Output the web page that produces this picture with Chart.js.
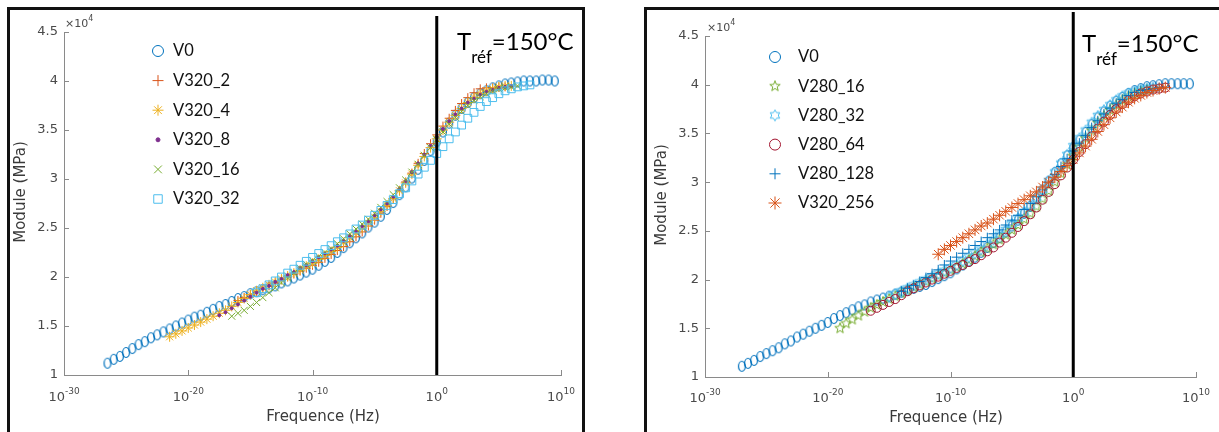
<!DOCTYPE html>
<html>
<head>
<meta charset="utf-8">
<script src="https://cdn.jsdelivr.net/npm/chart.js@4.4.1/dist/chart.umd.min.js"></script>
<style>
  html, body { margin: 0; padding: 0; background: #fff; }
  body { width: 1219px; height: 432px; position: relative; overflow: hidden; }
  .frame { position: absolute; border: 3px solid #111; box-sizing: border-box; }
  canvas { position: absolute; top: 0; }
</style>
</head>
<body>
<div class="frame" style="left:7px;top:7px;width:578px;height:460px"></div>
<div class="frame" style="left:644px;top:7px;width:600px;height:460px"></div>
<canvas id="leftChart" width="590" height="432" style="left:0"></canvas>
<canvas id="rightChart" width="599" height="432" style="left:620px"></canvas>
<script>
// log10 of frequency (Hz), shared grid for every series, rows start at -27,-22,-17,-12,-7,-2,3,8
const logFreq = [
  -27, -26.5, -26, -25.5, -25, -24.5, -24, -23.5, -23, -22.5,
  -22, -21.5, -21, -20.5, -20, -19.5, -19, -18.5, -18, -17.5,
  -17, -16.5, -16, -15.5, -15, -14.5, -14, -13.5, -13, -12.5,
  -12, -11.5, -11, -10.5, -10, -9.5, -9, -8.5, -8, -7.5,
  -7, -6.5, -6, -5.5, -5, -4.5, -4, -3.5, -3, -2.5,
  -2, -1.5, -1, -0.5, 0, 0.5, 1, 1.5, 2, 2.5,
  3, 3.5, 4, 4.5, 5, 5.5, 6, 6.5, 7, 7.5,
  8, 8.5, 9, 9.5
];
const xTickPowers = [-30, -20, -10, 0, 10];
const yTicks = [1, 1.5, 2, 2.5, 3, 3.5, 4, 4.5];

// left figure, module in x1e4 MPa
const leftLabels = ['V0', 'V320_2', 'V320_4', 'V320_8', 'V320_16', 'V320_32'];
const leftV0 = [
  null, 1.12, 1.16, 1.19, 1.23, 1.27, 1.31, 1.34, 1.38, 1.41,
  1.44, 1.47, 1.50, 1.53, 1.56, 1.59, 1.61, 1.64, 1.67, 1.70,
  1.72, 1.75, 1.78, 1.80, 1.83, 1.85, 1.87, 1.89, 1.91, 1.94,
  1.96, 1.99, 2.02, 2.05, 2.08, 2.12, 2.16, 2.20, 2.25, 2.30,
  2.35, 2.40, 2.45, 2.51, 2.56, 2.62, 2.69, 2.76, 2.84, 2.92,
  3.01, 3.10, 3.19, 3.29, 3.38, 3.48, 3.57, 3.65, 3.72, 3.78,
  3.83, 3.87, 3.90, 3.93, 3.95, 3.97, 3.98, 3.99, 4.00, 4.00,
  4.00, 4.01, 4.01, 4.00
];
const leftV320_2 = [
  null, null, null, null, null, null, null, null, null, null,
  null, null, null, null, null, null, null, null, null, null,
  null, null, 1.76, 1.79, 1.82, 1.85, 1.88, 1.91, 1.94, 1.97,
  2.00, 2.03, 2.06, 2.09, 2.12, 2.15, 2.19, 2.23, 2.27, 2.31,
  2.36, 2.41, 2.46, 2.52, 2.58, 2.65, 2.72, 2.80, 2.88, 2.97,
  3.06, 3.16, 3.26, 3.36, 3.45, 3.54, 3.62, 3.70, 3.77, 3.83,
  3.88, 3.92, 3.93, 3.93, 3.94, 3.94, null, null, null, null,
  null, null, null, null
];
const leftV320_4 = [
  null, null, null, null, null, null, null, null, null, null,
  null, 1.39, 1.42, 1.45, 1.48, 1.51, 1.54, 1.57, 1.60, 1.63,
  1.66, 1.70, 1.74, 1.78, 1.82, 1.86, 1.89, 1.92, 1.95, 1.98,
  2.01, 2.04, 2.07, 2.11, 2.14, 2.18, 2.22, 2.26, 2.30, 2.35,
  2.40, 2.45, 2.50, 2.55, 2.61, 2.67, 2.73, 2.80, 2.88, 2.96,
  3.05, 3.14, 3.23, 3.32, 3.41, 3.50, 3.58, 3.65, 3.72, 3.78,
  3.83, 3.87, 3.90, 3.92, 3.94, 3.95, 3.95, null, null, null,
  null, null, null, null
];
const leftV320_8 = [
  null, null, null, null, null, null, null, null, null, null,
  null, null, null, null, null, null, null, null, null, 1.61,
  1.64, 1.68, 1.72, 1.76, 1.80, 1.84, 1.88, 1.91, 1.95, 1.98,
  2.02, 2.05, 2.09, 2.12, 2.16, 2.20, 2.24, 2.28, 2.32, 2.37,
  2.42, 2.47, 2.52, 2.57, 2.63, 2.69, 2.75, 2.82, 2.90, 2.98,
  3.07, 3.16, 3.25, 3.34, 3.43, 3.51, 3.59, 3.66, 3.72, 3.78,
  3.82, 3.86, 3.89, 3.91, 3.93, 3.94, 3.95, null, null, null,
  null, null, null, null
];
const leftV320_16 = [
  null, null, null, null, null, null, null, null, null, null,
  null, null, null, null, null, null, null, null, null, null,
  null, 1.60, 1.63, 1.66, 1.70, 1.74, 1.79, 1.84, 1.89, 1.94,
  1.99, 2.04, 2.09, 2.13, 2.17, 2.21, 2.25, 2.29, 2.34, 2.39,
  2.44, 2.49, 2.54, 2.59, 2.65, 2.71, 2.77, 2.84, 2.91, 2.99,
  3.07, 3.15, 3.24, 3.32, 3.40, 3.48, 3.56, 3.63, 3.69, 3.75,
  3.80, 3.84, 3.87, 3.90, 3.92, 3.93, 3.94, 3.95, null, null,
  null, null, null, null
];
const leftV320_32 = [
  null, null, null, null, null, null, null, null, null, null,
  null, null, null, null, null, null, null, null, null, null,
  null, null, null, null, null, 1.84, 1.88, 1.92, 1.96, 2.00,
  2.04, 2.08, 2.12, 2.16, 2.20, 2.24, 2.28, 2.32, 2.36, 2.40,
  2.44, 2.49, 2.53, 2.58, 2.63, 2.68, 2.73, 2.79, 2.85, 2.91,
  2.98, 3.05, 3.12, 3.19, 3.26, 3.33, 3.41, 3.48, 3.55, 3.62,
  3.68, 3.74, 3.79, 3.83, 3.87, 3.90, 3.92, 3.94, 3.95, 3.96,
  null, null, null, null
];

// right figure
const rightLabels = ['V0', 'V280_16', 'V280_32', 'V280_64', 'V280_128', 'V320_256'];
const rightV0 = [
  1.11, 1.14, 1.17, 1.21, 1.24, 1.27, 1.30, 1.34, 1.37, 1.41,
  1.44, 1.47, 1.50, 1.53, 1.56, 1.60, 1.63, 1.66, 1.69, 1.72,
  1.74, 1.77, 1.79, 1.81, 1.83, 1.85, 1.87, 1.89, 1.91, 1.93,
  1.95, 1.98, 2.01, 2.04, 2.07, 2.11, 2.15, 2.19, 2.23, 2.28,
  2.33, 2.38, 2.43, 2.49, 2.55, 2.61, 2.68, 2.75, 2.83, 2.92,
  3.01, 3.10, 3.19, 3.27, 3.35, 3.43, 3.51, 3.59, 3.66, 3.72,
  3.78, 3.83, 3.87, 3.91, 3.94, 3.96, 3.98, 3.99, 4.00, 4.01,
  4.01, 4.01, 4.01, 4.01
];
const rightV280_16 = [
  null, null, null, null, null, null, null, null, null, null,
  null, null, null, null, null, null, 1.50, 1.55, 1.59, 1.63,
  1.67, 1.71, 1.74, 1.77, 1.80, 1.83, 1.86, 1.89, 1.92, 1.95,
  1.98, 2.01, 2.04, 2.07, 2.10, 2.13, 2.16, 2.20, 2.24, 2.28,
  2.32, 2.36, 2.41, 2.46, 2.51, 2.56, 2.62, 2.68, 2.75, 2.83,
  2.91, 3.00, 3.09, 3.18, 3.27, 3.36, 3.45, 3.53, 3.61, 3.68,
  3.74, 3.79, 3.84, 3.88, 3.91, 3.93, 3.95, null, null, null,
  null, null, null, null
];
const rightV280_32 = [
  null, null, null, null, null, null, null, null, null, null,
  null, null, null, null, null, null, null, null, null, null,
  null, null, null, null, 1.82, 1.85, 1.88, 1.91, 1.94, 1.97,
  2.00, 2.03, 2.06, 2.09, 2.12, 2.15, 2.19, 2.23, 2.27, 2.31,
  2.36, 2.41, 2.46, 2.51, 2.57, 2.63, 2.69, 2.76, 2.84, 2.92,
  3.01, 3.10, 3.19, 3.28, 3.37, 3.45, 3.53, 3.61, 3.68, 3.74,
  3.79, 3.84, 3.88, 3.91, 3.93, 3.95, 3.96, 3.97, null, null,
  null, null, null, null
];
const rightV280_64 = [
  null, null, null, null, null, null, null, null, null, null,
  null, null, null, null, null, null, null, null, null, null,
  null, 1.68, 1.71, 1.74, 1.77, 1.80, 1.84, 1.88, 1.91, 1.94,
  1.97, 2.00, 2.03, 2.06, 2.09, 2.12, 2.15, 2.18, 2.21, 2.25,
  2.29, 2.33, 2.38, 2.43, 2.48, 2.54, 2.60, 2.67, 2.74, 2.82,
  2.90, 2.98, 3.07, 3.15, 3.23, 3.31, 3.39, 3.47, 3.55, 3.62,
  3.69, 3.75, 3.80, 3.84, 3.88, 3.91, 3.93, 3.95, 3.96, 3.97,
  null, null, null, null
];
const rightV280_128 = [
  null, null, null, null, null, null, null, null, null, null,
  null, null, null, null, null, null, null, null, null, null,
  null, null, null, null, null, null, 1.88, 1.91, 1.94, 1.98,
  2.02, 2.06, 2.10, 2.15, 2.19, 2.23, 2.27, 2.31, 2.35, 2.39,
  2.43, 2.47, 2.51, 2.56, 2.61, 2.66, 2.72, 2.78, 2.85, 2.92,
  3.00, 3.08, 3.16, 3.24, 3.32, 3.40, 3.48, 3.56, 3.63, 3.70,
  3.76, 3.81, 3.85, 3.89, 3.92, 3.94, 3.95, 3.96, 3.97, null,
  null, null, null, null
];
const rightV320_256 = [
  null, null, null, null, null, null, null, null, null, null,
  null, null, null, null, null, null, null, null, null, null,
  null, null, null, null, null, null, null, null, null, null,
  null, null, 2.26, 2.31, 2.35, 2.39, 2.43, 2.47, 2.51, 2.55,
  2.58, 2.62, 2.66, 2.70, 2.74, 2.78, 2.82, 2.86, 2.90, 2.95,
  3.00, 3.05, 3.11, 3.17, 3.23, 3.30, 3.37, 3.44, 3.52, 3.59,
  3.66, 3.72, 3.77, 3.82, 3.86, 3.89, 3.92, 3.94, 3.96, 3.97,
  null, null, null, null
];

const axisGray = '#8a8a8a';
const tickGray = '#4a4a4a';
const titleGray = '#3a3a3a';

// outline star marker (pentagram / hexagram) drawn on a small canvas
function starMarker(color, points, outerR, innerR) {
  const size = Math.ceil(outerR * 2 + 3);
  const c = document.createElement('canvas');
  c.width = size; c.height = size;
  const g = c.getContext('2d');
  g.strokeStyle = color; g.lineWidth = 1;
  g.beginPath();
  for (let k = 0; k < points * 2; k++) {
    const r = k % 2 ? innerR : outerR;
    const a = -Math.PI / 2 + k * Math.PI / points;
    const px = size / 2 + r * Math.cos(a), py = size / 2 + r * Math.sin(a);
    if (k === 0) g.moveTo(px, py); else g.lineTo(px, py);
  }
  g.closePath(); g.stroke();
  return c;
}

// tall open ellipse, the squeezed 'o' markers of the V0 curve
function ovalMarker(color, rx, ry) {
  const c = document.createElement('canvas');
  c.width = Math.ceil(rx * 2 + 3); c.height = Math.ceil(ry * 2 + 3);
  const g = c.getContext('2d');
  g.strokeStyle = color; g.lineWidth = 1.2;
  g.beginPath();
  g.ellipse(c.width / 2, c.height / 2, rx, ry, 0, 0, Math.PI * 2);
  g.stroke();
  return c;
}

const leftStyles = [
  { color: '#0072BD', style: ovalMarker('#0072BD', 3.4, 5), legendStyle: 'circle', r: 4 },
  { color: '#D95319', style: 'cross', r: 4.5 },
  { color: '#EDB120', style: 'star', r: 5 },
  { color: '#7E2F8E', style: 'circle', r: 1.5, fill: true },
  { color: '#77AC30', style: 'crossRot', r: 5 },
  { color: '#4DBEEE', style: 'rect', r: 5.5 }
];
const rightStyles = [
  { color: '#0072BD', style: ovalMarker('#0072BD', 3.4, 5), legendStyle: 'circle', r: 4 },
  { color: '#77AC30', style: starMarker('#77AC30', 5, 5.5, 2.3) },
  { color: '#4DBEEE', style: starMarker('#4DBEEE', 6, 5.5, 3.2) },
  { color: '#A2142F', style: 'circle', r: 4.5 },
  { color: '#0072BD', style: 'cross', r: 5 },
  { color: '#D95319', style: 'star', r: 6 }
];

function toPoints(vals) {
  const out = [];
  vals.forEach((v, i) => {
    if (v !== null) out.push({ x: Math.pow(10, logFreq[i]), y: v });
  });
  return out;
}

function sup(ctx, base, exp, x, y, baseFont, expFont, expRise, align) {
  ctx.font = baseFont;
  const wb = ctx.measureText(base).width;
  ctx.font = expFont;
  const we = ctx.measureText(exp).width;
  let x0 = align === 'center' ? x - (wb + we) / 2 : x;
  ctx.textAlign = 'left';
  ctx.textBaseline = 'alphabetic';
  ctx.font = baseFont;
  ctx.fillText(base, x0, y);
  ctx.font = expFont;
  ctx.fillText(exp, x0 + wb, y - expRise);
}

const decor = {
  id: 'decor',
  afterDatasetsDraw(chart, args, g) {
    const { ctx, chartArea, scales } = chart;
    const xs = scales.x, ys = scales.y;
    ctx.save();

    // small inward tick marks
    ctx.strokeStyle = axisGray; ctx.lineWidth = 1;
    ctx.beginPath();
    xTickPowers.forEach(p => {
      const x = Math.round(xs.getPixelForValue(Math.pow(10, p))) + 0.5;
      ctx.moveTo(x, chartArea.bottom); ctx.lineTo(x, chartArea.bottom - 5);
    });
    yTicks.forEach(v => {
      const y = Math.round(ys.getPixelForValue(v)) + 0.5;
      ctx.moveTo(chartArea.left, y); ctx.lineTo(chartArea.left + 5, y);
    });
    ctx.stroke();

    // reference line at 1 Hz
    const xr = xs.getPixelForValue(1);
    ctx.strokeStyle = '#000'; ctx.lineWidth = 3;
    ctx.beginPath(); ctx.moveTo(xr, g.lineTop); ctx.lineTo(xr, chartArea.bottom); ctx.stroke();

    // x tick labels 10^n
    ctx.fillStyle = tickGray;
    xTickPowers.forEach(p => {
      const x = xs.getPixelForValue(Math.pow(10, p));
      sup(ctx, '10', String(p), x, g.tickBase, '13px "DejaVu Sans"', '9px "DejaVu Sans"', 7, 'center');
    });

    // x10^4 multiplier
    sup(ctx, '\u00d710', '4', g.x10[0], g.x10[1], '11px "DejaVu Sans"', '8px "DejaVu Sans"', 6, 'left');

    // axis titles
    ctx.fillStyle = titleGray;
    ctx.font = '15px "DejaVu Sans"';
    ctx.textAlign = 'center'; ctx.textBaseline = 'alphabetic';
    ctx.fillText('Frequence (Hz)', g.xTitle[0], g.xTitle[1]);
    ctx.save();
    ctx.translate(g.yTitle[0], g.yTitle[1]);
    ctx.rotate(-Math.PI / 2);
    ctx.textBaseline = 'middle';
    ctx.fillText('Module (MPa)', 0, 0);
    ctx.restore();

    // T_ref annotation
    ctx.fillStyle = '#000';
    ctx.textAlign = 'left'; ctx.textBaseline = 'alphabetic';
    ctx.font = '24px Lato';
    const wT = ctx.measureText('T').width;
    ctx.fillText('T', g.tref[0], g.tref[1]);
    ctx.font = '17px Lato';
    const wSub = ctx.measureText('réf').width;
    ctx.fillText('réf', g.tref[0] + wT, g.tref[1] + 13);
    ctx.font = '24px Lato';
    ctx.fillText('=150°C', g.tref[0] + wT + wSub, g.tref[1]);

    // legend
    const lg = g.legend;
    chart.data.datasets.forEach((ds, i) => {
      const y = lg.y0 + i * lg.step;
      ctx.strokeStyle = ds.borderColor;
      ctx.fillStyle = ds.backgroundColor;
      ctx.lineWidth = 1;
      Chart.helpers.drawPoint(ctx, {
        pointStyle: ds.legendStyle,
        radius: ds.legendRadius,
        borderWidth: 1,
        rotation: 0
      }, lg.mx, y);
      ctx.fillStyle = '#111';
      ctx.font = '16.5px Lato';
      ctx.textAlign = 'left'; ctx.textBaseline = 'middle';
      ctx.fillText(ds.label, lg.tx, y);
    });

    ctx.restore();
  }
};

function makeChart(id, labels, series, styles, g) {
  const datasets = series.map((vals, i) => {
    const s = styles[i];
    return {
      label: labels[i],
      data: toPoints(vals),
      pointStyle: s.style,
      legendStyle: s.legendStyle || s.style,
      pointRadius: s.r || 5,
      legendRadius: s.fill ? 2 : Math.max(s.r || 5, 5) + 0.5,
      borderColor: s.color,
      backgroundColor: s.fill ? s.color : 'rgba(0,0,0,0)',
      borderWidth: 1,
      order: labels.length - i
    };
  });
  return new Chart(document.getElementById(id), {
    type: 'scatter',
    data: { datasets },
    options: {
      responsive: false,
      animation: false,
      devicePixelRatio: 1,
      layout: { padding: { left: 0, top: g.padTop, right: g.padRight, bottom: 0 } },
      plugins: { legend: { display: false }, tooltip: { enabled: false }, decor: g },
      scales: {
        x: {
          type: 'logarithmic', min: 1e-30, max: 1e10,
          afterBuildTicks: s => { s.ticks = xTickPowers.map(p => ({ value: Math.pow(10, p) })); },
          afterFit: s => { s.height = g.xHeight; },
          ticks: { display: false },
          grid: { display: false, drawTicks: false },
          border: { display: true, color: axisGray, width: 1 }
        },
        y: {
          min: 1, max: 4.5,
          afterBuildTicks: s => { s.ticks = yTicks.map(v => ({ value: v })); },
          afterFit: s => { s.width = g.yWidth; },
          ticks: {
            padding: 6, color: tickGray,
            font: { family: 'DejaVu Sans', size: 13 },
            callback: v => String(v)
          },
          grid: { display: false, drawTicks: false },
          border: { display: true, color: axisGray, width: 1 }
        }
      }
    },
    plugins: [decor]
  });
}

makeChart('leftChart', leftLabels,
  [leftV0, leftV320_2, leftV320_4, leftV320_8, leftV320_16, leftV320_32], leftStyles, {
    padTop: 32, padRight: 29, yWidth: 64, xHeight: 57, lineTop: 16,
    tickBase: 401, x10: [65, 27], xTitle: [323, 421], yTitle: [21, 192],
    tref: [457, 50], legend: { mx: 158, tx: 173, y0: 51, step: 29.6 }
  });

makeChart('rightChart', rightLabels,
  [rightV0, rightV280_16, rightV280_32, rightV280_64, rightV280_128, rightV320_256], rightStyles, {
    padTop: 36, padRight: 23, yWidth: 85, xHeight: 55, lineTop: 12,
    tickBase: 402, x10: [87, 31], xTitle: [326, 422], yTitle: [42, 195],
    tref: [462, 52], legend: { mx: 155, tx: 178, y0: 57, step: 29.2 }
  });
</script>
</body>
</html>
